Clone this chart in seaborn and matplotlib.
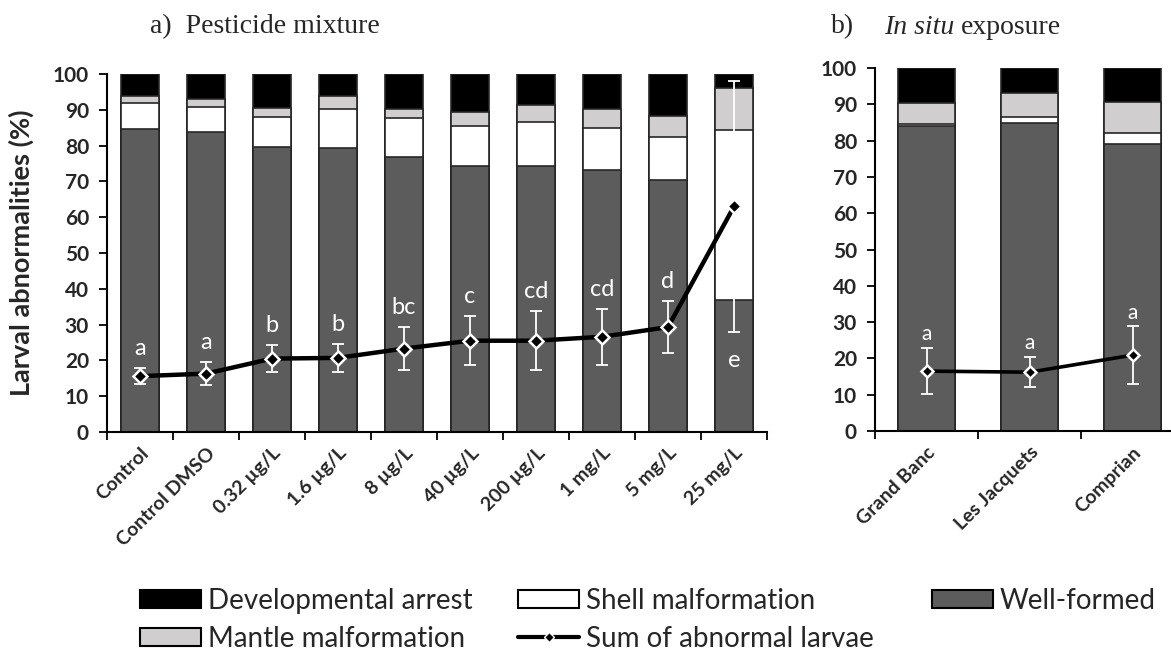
import numpy as np
import seaborn as sns
import matplotlib.pyplot as plt
from matplotlib.patches import Patch
from matplotlib.lines import Line2D

# ── data ────────────────────────────────────────────────────────────────────
concentrations = ["Control", "Control DMSO", "0.32 µg/L", "1.6 µg/L", "8 µg/L",
                  "40 µg/L", "200 µg/L", "1 mg/L", "5 mg/L", "25 mg/L"]
well_a = [84.5, 83.8, 79.6, 79.3, 76.8, 74.3, 74.3, 73.2, 70.4, 36.9]
shell_a = [7.4, 7.0, 8.4, 10.9, 10.9, 11.2, 12.3, 11.7, 12.0, 47.5]
mantle_a = [2.0, 2.2, 2.5, 3.6, 2.5, 3.9, 4.7, 5.3, 5.9, 11.7]
sum_a = [15.6, 16.3, 20.5, 20.7, 23.3, 25.5, 25.5, 26.6, 29.3, 63.0]
err_a = [2.2, 3.2, 3.8, 3.9, 6.1, 6.8, 8.3, 7.8, 7.3, 35.0]
letters_a = ["a", "a", "b", "b", "bc", "c", "cd", "cd", "d", "e"]

sites = ["Grand Banc", "Les Jacquets", "Comprian"]
well_b = [84.1, 84.8, 79.2]
shell_b = [0.5, 1.7, 3.0]
mantle_b = [5.7, 6.5, 8.3]
sum_b = [16.5, 16.2, 20.9]
err_b = [6.4, 4.2, 7.9]
letters_b = ["a", "a", "a"]

C_ARREST = "#000000"
C_MANTLE = "#d0cece"
C_SHELL = "#ffffff"
C_WELL = "#5c5c5c"
EDGE = "#262626"

sns.set_theme(style="white")
plt.rcParams["font.family"] = ["Lato", "DejaVu Sans"]

W, H = 1171, 654
fig = plt.figure(figsize=(W / 100, H / 100), dpi=100)
axL = fig.add_axes([107 / W, 1 - 432 / H, 660 / W, 358 / H])
axR = fig.add_axes([875 / W, 1 - 431 / H, 309 / W, 363 / H])


def stacked(ax, cats, well, shell, mantle, width):
    well = np.array(well)
    shell = np.array(shell)
    mantle = np.array(mantle)
    layers = [
        (np.full(len(cats), 100.0), C_ARREST),
        (well + shell + mantle, C_MANTLE),
        (well + shell, C_SHELL),
        (well, C_WELL),
    ]
    for vals, col in layers:
        sns.barplot(x=cats, y=vals, order=cats, color=col, saturation=1,
                    width=width, edgecolor=EDGE, linewidth=1.2, ax=ax)


def sum_line(ax, vals, err, lw, ms):
    x = np.arange(len(vals))
    sns.lineplot(x=x, y=vals, color="black", linewidth=lw, ax=ax, zorder=3)
    ax.errorbar(x, vals, yerr=err, fmt="none", ecolor="white", elinewidth=1.3,
                capsize=4, capthick=1.3, zorder=4)
    ax.plot(x, vals, linestyle="none", marker="D", markersize=ms,
            markerfacecolor="black", markeredgecolor="white",
            markeredgewidth=1.8, zorder=5)


def style_axis(ax, cats):
    n = len(cats)
    ax.set_xlim(-0.5, n - 0.5)
    ax.set_ylim(0, 100)
    ax.set_yticks(np.arange(0, 101, 10))
    ax.set_xticks(np.arange(n))
    ax.set_xticklabels(cats, rotation=45, ha="right", rotation_mode="anchor",
                       fontweight="bold", fontsize=14)
    ax.set_xticks(np.arange(n + 1) - 0.5, minor=True)
    ax.tick_params(axis="x", which="major", length=0, pad=9)
    ax.tick_params(axis="x", which="minor", length=6, width=1.3,
                   direction="out", color="black", bottom=True)
    ax.tick_params(axis="y", length=6, width=1.3, direction="out",
                   color="black", left=True, labelsize=15, pad=7)
    for lab in ax.get_yticklabels():
        lab.set_fontweight("bold")
    for sp in ("top", "right"):
        ax.spines[sp].set_visible(False)
    for sp in ("left", "bottom"):
        ax.spines[sp].set_color("black")
        ax.spines[sp].set_linewidth(1.5)
    ax.set_xlabel("")
    ax.set_ylabel("")
    ax.grid(False)


# ── panel a ─────────────────────────────────────────────────────────────────
stacked(axL, concentrations, well_a, shell_a, mantle_a, 0.58)
sum_line(axL, sum_a, err_a, 3.2, 7)
for i, (m, e, t) in enumerate(zip(sum_a, err_a, letters_a)):
    y = m - e - 8 if t == "e" else m + e + 5.5
    axL.text(i, y, t, color="white", ha="center", va="center", fontsize=17)
style_axis(axL, concentrations)
axL.set_ylabel("Larval abnormalities (%)", fontweight="bold", fontsize=19.5)
axL.yaxis.set_label_coords(-0.11, 0.5)

# ── panel b ─────────────────────────────────────────────────────────────────
stacked(axR, sites, well_b, shell_b, mantle_b, 0.55)
sum_line(axR, sum_b, err_b, 2.6, 6)
for i, (m, e, t) in enumerate(zip(sum_b, err_b, letters_b)):
    axR.text(i, m + e + 3.8, t, color="white", ha="center", va="center",
             fontsize=15)
style_axis(axR, sites)

# ── titles ──────────────────────────────────────────────────────────────────
serif = "Liberation Serif"
TY = 1 - 27 / H
fig.text(150 / W, TY, "a)  Pesticide mixture", family=serif,
         fontsize=20, va="center")
fig.text(831 / W, TY, "b)", family=serif, fontsize=20, va="center")
t_it = fig.text(884 / W, TY, "In situ ", family=serif, style="italic",
                fontsize=20, va="center")
fig.canvas.draw()
bb = t_it.get_window_extent()
fig.text(bb.x1 / W, TY, "exposure", family=serif, fontsize=20, va="center")

# ── legend (three columns placed separately) ────────────────────────────────
def patch(c):
    return Patch(facecolor=c, edgecolor="black", linewidth=1.5)


sum_handle = Line2D([], [], color="black", linewidth=3, marker="D",
                    markersize=5, markerfacecolor="black",
                    markeredgecolor="white")
leg_kw = dict(frameon=False, fontsize=20, handlelength=2.2, handleheight=0.6,
              handletextpad=0.25, labelspacing=0.42, borderpad=0,
              borderaxespad=0, loc="upper left")
LY = 1 - 588 / H
fig.legend([patch(C_ARREST), patch(C_MANTLE)],
           ["Developmental arrest", "Mantle malformation"],
           bbox_to_anchor=(140 / W, LY), **leg_kw)
fig.legend([patch(C_SHELL), sum_handle],
           ["Shell malformation", "Sum of abnormal larvae"],
           bbox_to_anchor=(518 / W, LY), **leg_kw)
fig.legend([patch(C_WELL)], ["Well-formed"],
           bbox_to_anchor=(932 / W, LY), **leg_kw)

fig.savefig("out.png", dpi=100, facecolor="white")
